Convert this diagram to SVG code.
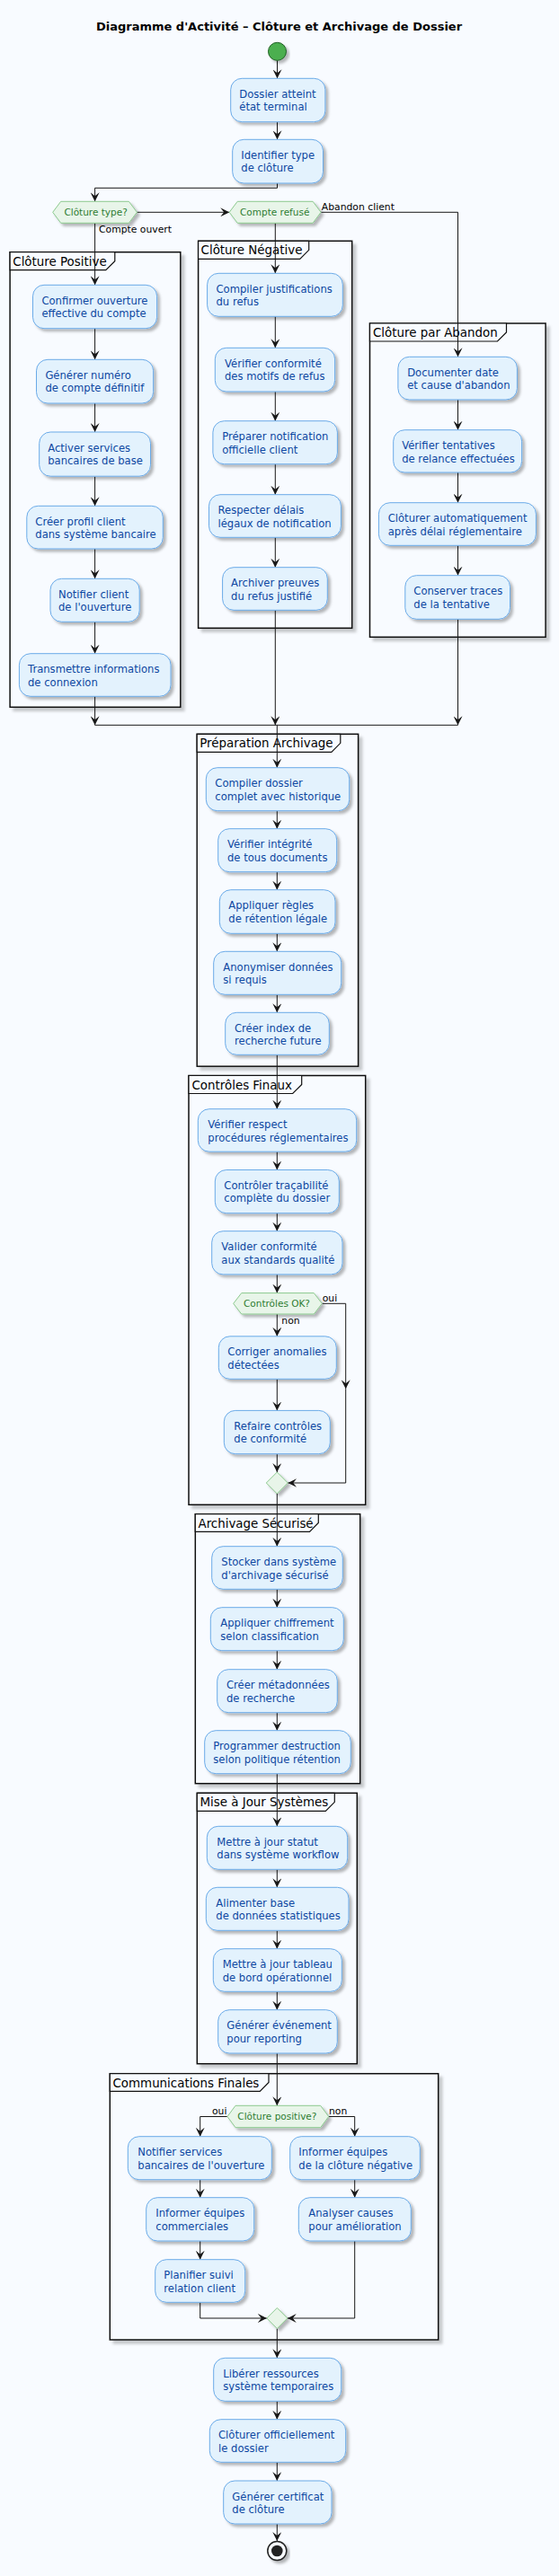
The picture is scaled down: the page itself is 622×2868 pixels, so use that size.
<svg xmlns="http://www.w3.org/2000/svg" width="622" height="2868" viewBox="0 0 622 2868">
<defs>
<filter id="sh" x="-10%" y="-10%" width="130%" height="140%"><feDropShadow dx="3" dy="3" stdDeviation="1.8" flood-color="#000" flood-opacity="0.28"/></filter>
<filter id="shf" x="-5%" y="-5%" width="115%" height="115%"><feDropShadow dx="4" dy="4" stdDeviation="1.5" flood-color="#000" flood-opacity="0.2"/></filter>
<marker id="ah" viewBox="0 0 10 10" refX="10" refY="5" markerWidth="10" markerHeight="10" markerUnits="userSpaceOnUse" orient="auto"><path d="M0,0 L10,5 L0,10 L4,5 Z" fill="#181818"/></marker>
<style>
.bg{fill:#F8FBFF}
.box{fill:#E3F2FD;stroke:#6AAAE8;stroke-width:1;filter:url(#sh)}
.bt{font-family:"DejaVu Sans","Liberation Sans",sans-serif;font-size:11.6px;fill:#0D47A1}
.hex{fill:#E8F5E9;stroke:#8BC98E;stroke-width:1;filter:url(#sh)}
.ht{font-family:"DejaVu Sans","Liberation Sans",sans-serif;font-size:10.5px;fill:#2E7D32}
.fr{fill:#F8FBFF;stroke:#111;stroke-width:1.5;filter:url(#shf)}
.tab{fill:#F8FBFF;stroke:#111;stroke-width:1.2}
.ft{font-family:"DejaVu Sans","Liberation Sans",sans-serif;font-size:13.4px;fill:#000}
.lb{font-family:"DejaVu Sans","Liberation Sans",sans-serif;font-size:10.8px;fill:#000}
.title{font-family:"DejaVu Sans","Liberation Sans",sans-serif;font-size:13px;font-weight:bold;fill:#000}
.c path{fill:none;stroke:#181818;stroke-width:1;marker-end:url(#ah)}
.c path.n{marker-end:none}
</style>
</defs>
<rect class="bg" x="0" y="0" width="622" height="2868"/>
<text class="title" x="310.5" y="34" text-anchor="middle">Diagramme d'Activité – Clôture et Archivage de Dossier</text>

<g id="frames">
<g id="p-positive"><rect class="fr" x="11.1" y="280.7" width="189.7" height="506.6"/><path class="tab" d="M11.1,280.7 H127.8 V290.7 L117.8,300.7 H11.1 Z"/><text class="ft" x="14.3" y="295.7">Clôture Positive</text></g>
<g id="p-negative"><rect class="fr" x="220.6" y="268.3" width="171.1" height="431"/><path class="tab" d="M220.6,268.3 H343.7 V278.3 L333.7,288.3 H220.6 Z"/><text class="ft" x="223.6" y="283.3">Clôture Négative</text></g>
<g id="p-abandon"><rect class="fr" x="411.5" y="360" width="195.6" height="349.3"/><path class="tab" d="M411.5,360 H563.5 V370 L553.5,380 H411.5 Z"/><text class="ft" x="415" y="375">Clôture par Abandon</text></g>
<g id="p-preparation"><rect class="fr" x="219.2" y="817.3" width="179.4" height="369.9"/><path class="tab" d="M219.2,817.3 H378.8 V827.3 L368.8,837.3 H219.2 Z"/><text class="ft" x="222.2" y="832.3">Préparation Archivage</text></g>
<g id="p-controles"><rect class="fr" x="210" y="1197.5" width="196.7" height="477.8"/><path class="tab" d="M210,1197.5 H335.7 V1207.5 L325.7,1217.5 H210 Z"/><text class="ft" x="213.5" y="1212.5">Contrôles Finaux</text></g>
<g id="p-archivage"><rect class="fr" x="217.3" y="1685.7" width="183.4" height="300"/><path class="tab" d="M217.3,1685.7 H354.3 V1695.5 L344.5,1705.3 H217.3 Z"/><text class="ft" x="220.5" y="1700.5">Archivage Sécurisé</text></g>
<g id="p-maj"><rect class="fr" x="219.3" y="1996.3" width="178" height="301.4"/><path class="tab" d="M219.3,1996.3 H372.3 V2006.3 L362.3,2016.3 H219.3 Z"/><text class="ft" x="222.5" y="2011.3">Mise à Jour Systèmes</text></g>
<g id="p-comm"><rect class="fr" x="122.3" y="2308.7" width="365.4" height="296.3"/><path class="tab" d="M122.3,2308.7 H299 V2318.5 L289.2,2328.3 H122.3 Z"/><text class="ft" x="125.5" y="2323.7">Communications Finales</text></g>
</g>

<g id="connectors" class="c">
<path d="M308.5,67.3 V87.3"/>
<path d="M308.5,135.7 V155.3"/>
<path d="M308.5,204 V209.3 H105.6 V224.3"/>
<path d="M152.4,236.3 H255.2"/>
<path d="M357.1,236.3 H509.5 V397.3"/>
<path d="M105.6,248.3 V317.3"/>
<path d="M306.3,248.3 V304.3"/>
<path d="M105.6,365.7 V400.3"/>
<path d="M105.6,449 V481"/>
<path d="M105.6,530.7 V563.3"/>
<path d="M105.6,611 V644.3"/>
<path d="M105.6,692.3 V727.7"/>
<path d="M105.6,775.3 V807.3"/>
<path d="M306.3,352.3 V387.3"/>
<path d="M306.3,436 V468.7"/>
<path d="M306.3,516.7 V550.7"/>
<path d="M306.3,598.3 V631.7"/>
<path d="M306.3,679.3 V807.3"/>
<path d="M509.5,445 V478.7"/>
<path d="M509.5,526 V559.7"/>
<path d="M509.5,607.3 V640.7"/>
<path d="M509.5,689.3 V807.3"/>
<path class="n" d="M105.6,807.3 H509.5"/>
<path d="M308.3,807.3 V854.7"/>
<path d="M308.3,902.7 V922.7"/>
<path d="M308.3,970.7 V990.7"/>
<path d="M308.3,1039.3 V1059.3"/>
<path d="M308.3,1107.3 V1127.3"/>
<path d="M308.3,1174.3 V1234.7"/>
<path d="M308.3,1282.2 V1302.5"/>
<path d="M308.3,1350.7 V1370.7"/>
<path d="M308.3,1418.9 V1439.6"/>
<path d="M308.3,1463 V1487.8"/>
<path d="M308.3,1535.3 V1570.4"/>
<path d="M308.3,1618.7 V1639"/>
<path d="M358.3,1451.3 H384.7 V1546.3"/>
<path d="M384.7,1546.3 V1651 H320.3"/>
<path d="M308.3,1663 V1721.7"/>
<path d="M308.3,1769.3 V1789.7"/>
<path d="M308.3,1837.7 V1858.7"/>
<path d="M308.3,1906.7 V1926.7"/>
<path d="M308.3,1974.7 V2033.3"/>
<path d="M308.3,2081.3 V2101.3"/>
<path d="M308.3,2149.3 V2169.7"/>
<path d="M308.3,2217.3 V2237.7"/>
<path d="M308.3,2286 V2344.3"/>
<path d="M253,2356.5 H222.7 V2378.7"/>
<path d="M365.7,2356.5 H394.7 V2378.7"/>
<path d="M222.7,2426.7 V2446.7"/>
<path d="M222.7,2495 V2515.7"/>
<path d="M222.7,2563.3 V2581 H296.8"/>
<path d="M394.7,2426.7 V2446.7"/>
<path d="M394.7,2495 V2581 H319.8"/>
<path d="M308.3,2592.5 V2625.3"/>
<path d="M308.3,2673.3 V2693.7"/>
<path d="M308.3,2741.3 V2762"/>
<path d="M308.3,2810 V2829"/>
</g>

<g id="labels">
<text class="lb" x="110" y="259">Compte ouvert</text>
<text class="lb" x="357.8" y="233.5">Abandon client</text>
<text class="lb" x="358.7" y="1448.5">oui</text>
<text class="lb" x="313.3" y="1474">non</text>
<text class="lb" x="236" y="2354">oui</text>
<text class="lb" x="366" y="2354">non</text>
</g>

<g id="start"><circle cx="308.5" cy="57.3" r="10" fill="#4CAF50" stroke="#1B5E20" stroke-width="1" filter="url(#sh)"/></g>

<g id="n-dossier"><rect class="box" x="256.7" y="87.3" width="105.2" height="48.4" rx="12.5"/><text class="bt" x="266.3" y="108.9">Dossier atteint</text><text class="bt" x="266.3" y="123.2">état terminal</text></g>
<g id="n-identifier"><rect class="box" x="258.7" y="155.3" width="100.8" height="48.7" rx="12.5"/><text class="bt" x="268.3" y="176.9">Identifier type</text><text class="bt" x="268.3" y="191.2">de clôture</text></g>

<g id="d-type"><polygon class="hex" points="58.7,236.3 67.7,224.3 143.4,224.3 152.4,236.3 143.4,248.3 67.7,248.3"/><text class="ht" x="71.4" y="240">Clôture type?</text></g>
<g id="d-refuse"><polygon class="hex" points="255.2,236.3 264.2,224.3 348.1,224.3 357.1,236.3 348.1,248.3 264.2,248.3"/><text class="ht" x="267" y="240">Compte refusé</text></g>

<g id="n-p1"><rect class="box" x="36.5" y="317.3" width="138.1" height="48.4" rx="12.5"/><text class="bt" x="46.4" y="338.9">Confirmer ouverture</text><text class="bt" x="46.4" y="353.2">effective du compte</text></g>
<g id="n-p2"><rect class="box" x="40.5" y="400.3" width="130.1" height="48.7" rx="12.5"/><text class="bt" x="50.4" y="421.9">Générer numéro</text><text class="bt" x="50.4" y="436.2">de compte définitif</text></g>
<g id="n-p3"><rect class="box" x="43.7" y="481" width="123.8" height="49.2" rx="12.5"/><text class="bt" x="53.2" y="502.6">Activer services</text><text class="bt" x="53.2" y="516.9">bancaires de base</text></g>
<g id="n-p4"><rect class="box" x="29.8" y="563.3" width="151.5" height="47.7" rx="12.5"/><text class="bt" x="39.3" y="584.9">Créer profil client</text><text class="bt" x="39.3" y="599.2">dans système bancaire</text></g>
<g id="n-p5"><rect class="box" x="56" y="644.3" width="99.2" height="48" rx="12.5"/><text class="bt" x="65" y="665.9">Notifier client</text><text class="bt" x="65" y="680.2">de l'ouverture</text></g>
<g id="n-p6"><rect class="box" x="21.4" y="727.7" width="168.6" height="47.6" rx="12.5"/><text class="bt" x="31" y="749.3">Transmettre informations</text><text class="bt" x="31" y="763.6">de connexion</text></g>

<g id="n-n1"><rect class="box" x="230.6" y="304.3" width="150.7" height="48" rx="12.5"/><text class="bt" x="240.5" y="325.9">Compiler justifications</text><text class="bt" x="240.5" y="340.2">du refus</text></g>
<g id="n-n2"><rect class="box" x="239.3" y="387.3" width="133.3" height="48.7" rx="12.5"/><text class="bt" x="250" y="408.9">Vérifier conformité</text><text class="bt" x="250" y="423.2">des motifs de refus</text></g>
<g id="n-n3"><rect class="box" x="236.9" y="468.7" width="138.5" height="48" rx="12.5"/><text class="bt" x="247.2" y="490.3">Préparer notification</text><text class="bt" x="247.2" y="504.6">officielle client</text></g>
<g id="n-n4"><rect class="box" x="232.5" y="550.7" width="146.9" height="47.6" rx="12.5"/><text class="bt" x="242.5" y="572.3">Respecter délais</text><text class="bt" x="242.5" y="586.6">légaux de notification</text></g>
<g id="n-n5"><rect class="box" x="247.6" y="631.7" width="116.7" height="47.6" rx="12.5"/><text class="bt" x="257.1" y="653.3">Archiver preuves</text><text class="bt" x="257.1" y="667.6">du refus justifié</text></g>

<g id="n-a1"><rect class="box" x="442.9" y="397.3" width="132.5" height="47.7" rx="12.5"/><text class="bt" x="453.2" y="418.9">Documenter date</text><text class="bt" x="453.2" y="433.2">et cause d'abandon</text></g>
<g id="n-a2"><rect class="box" x="437.7" y="478.7" width="142.9" height="47.3" rx="12.5"/><text class="bt" x="447.2" y="500.3">Vérifier tentatives</text><text class="bt" x="447.2" y="514.6">de relance effectuées</text></g>
<g id="n-a3"><rect class="box" x="421.4" y="559.7" width="175" height="47.6" rx="12.5"/><text class="bt" x="431.7" y="581.3">Clôturer automatiquement</text><text class="bt" x="431.7" y="595.6">après délai réglementaire</text></g>
<g id="n-a4"><rect class="box" x="450.8" y="640.7" width="116.7" height="48.6" rx="12.5"/><text class="bt" x="460.3" y="662.3">Conserver traces</text><text class="bt" x="460.3" y="676.6">de la tentative</text></g>

<g id="n-r1"><rect class="box" x="229.3" y="854.7" width="159.4" height="48" rx="12.5"/><text class="bt" x="239.3" y="876.3">Compiler dossier</text><text class="bt" x="239.3" y="890.6">complet avec historique</text></g>
<g id="n-r2"><rect class="box" x="242.7" y="922.7" width="132" height="48" rx="12.5"/><text class="bt" x="253" y="944.3">Vérifier intégrité</text><text class="bt" x="253" y="958.6">de tous documents</text></g>
<g id="n-r3"><rect class="box" x="244.3" y="990.7" width="128.7" height="48.6" rx="12.5"/><text class="bt" x="254.3" y="1012.3">Appliquer règles</text><text class="bt" x="254.3" y="1026.6">de rétention légale</text></g>
<g id="n-r4"><rect class="box" x="237.7" y="1059.3" width="142" height="48" rx="12.5"/><text class="bt" x="248.3" y="1080.9">Anonymiser données</text><text class="bt" x="248.3" y="1095.2">si requis</text></g>
<g id="n-r5"><rect class="box" x="250.7" y="1127.3" width="115.6" height="47" rx="12.5"/><text class="bt" x="261" y="1148.9">Créer index de</text><text class="bt" x="261" y="1163.2">recherche future</text></g>

<g id="n-c1"><rect class="box" x="220.3" y="1234.7" width="176.4" height="47.5" rx="12.5"/><text class="bt" x="231.3" y="1256.3">Vérifier respect</text><text class="bt" x="231.3" y="1270.6">procédures réglementaires</text></g>
<g id="n-c2"><rect class="box" x="239.3" y="1302.5" width="138" height="48.2" rx="12.5"/><text class="bt" x="249.3" y="1324.1">Contrôler traçabilité</text><text class="bt" x="249.3" y="1338.4">complète du dossier</text></g>
<g id="n-c3"><rect class="box" x="235.7" y="1370.7" width="145.3" height="48.2" rx="12.5"/><text class="bt" x="246.3" y="1392.3">Valider conformité</text><text class="bt" x="246.3" y="1406.6">aux standards qualité</text></g>
<g id="d-ok"><polygon class="hex" points="259.7,1451.3 268.7,1439.6 349.3,1439.6 358.3,1451.3 349.3,1463 268.7,1463"/><text class="ht" x="271" y="1455">Contrôles OK?</text></g>
<g id="n-c4"><rect class="box" x="243.3" y="1487.8" width="131" height="47.5" rx="12.5"/><text class="bt" x="253.3" y="1509.4">Corriger anomalies</text><text class="bt" x="253.3" y="1523.7">détectées</text></g>
<g id="n-c5"><rect class="box" x="249.3" y="1570.4" width="118" height="48.3" rx="12.5"/><text class="bt" x="260.3" y="1592">Refaire contrôles</text><text class="bt" x="260.3" y="1606.3">de conformité</text></g>
<g id="m-ok"><polygon class="hex" points="308.3,1639 320.3,1651 308.3,1663 296.3,1651"/></g>

<g id="n-s1"><rect class="box" x="235.7" y="1721.7" width="145.6" height="47.6" rx="12.5"/><text class="bt" x="246.3" y="1743.3">Stocker dans système</text><text class="bt" x="246.3" y="1757.6">d'archivage sécurisé</text></g>
<g id="n-s2"><rect class="box" x="234.3" y="1789.7" width="148" height="48" rx="12.5"/><text class="bt" x="245.3" y="1811.3">Appliquer chiffrement</text><text class="bt" x="245.3" y="1825.6">selon classification</text></g>
<g id="n-s3"><rect class="box" x="241.7" y="1858.7" width="133.6" height="48" rx="12.5"/><text class="bt" x="252" y="1880.3">Créer métadonnées</text><text class="bt" x="252" y="1894.6">de recherche</text></g>
<g id="n-s4"><rect class="box" x="227.7" y="1926.7" width="162.6" height="48" rx="12.5"/><text class="bt" x="237.3" y="1948.3">Programmer destruction</text><text class="bt" x="237.3" y="1962.6">selon politique rétention</text></g>

<g id="n-m1"><rect class="box" x="230.3" y="2033.3" width="156.4" height="48" rx="12.5"/><text class="bt" x="241.3" y="2054.9">Mettre à jour statut</text><text class="bt" x="241.3" y="2069.2">dans système workflow</text></g>
<g id="n-m2"><rect class="box" x="229.3" y="2101.3" width="158.7" height="48" rx="12.5"/><text class="bt" x="240.3" y="2122.9">Alimenter base</text><text class="bt" x="240.3" y="2137.2">de données statistiques</text></g>
<g id="n-m3"><rect class="box" x="237.3" y="2169.7" width="143" height="47.6" rx="12.5"/><text class="bt" x="247.7" y="2191.3">Mettre à jour tableau</text><text class="bt" x="247.7" y="2205.6">de bord opérationnel</text></g>
<g id="n-m4"><rect class="box" x="242.7" y="2237.7" width="132.6" height="48.3" rx="12.5"/><text class="bt" x="252.3" y="2259.3">Générer événement</text><text class="bt" x="252.3" y="2273.6">pour reporting</text></g>

<g id="d-positive"><polygon class="hex" points="253,2356.5 262,2344.3 356.7,2344.3 365.7,2356.5 356.7,2368.7 262,2368.7"/><text class="ht" x="264.3" y="2360.2">Clôture positive?</text></g>
<g id="n-f1"><rect class="box" x="142.3" y="2378.7" width="160" height="48" rx="12.5"/><text class="bt" x="153.3" y="2400.3">Notifier services</text><text class="bt" x="153.3" y="2414.6">bancaires de l'ouverture</text></g>
<g id="n-f2"><rect class="box" x="162.7" y="2446.7" width="120" height="48.3" rx="12.5"/><text class="bt" x="173.3" y="2468.3">Informer équipes</text><text class="bt" x="173.3" y="2482.6">commerciales</text></g>
<g id="n-f3"><rect class="box" x="172.7" y="2515.7" width="100" height="47.6" rx="12.5"/><text class="bt" x="182.3" y="2537.3">Planifier suivi</text><text class="bt" x="182.3" y="2551.6">relation client</text></g>
<g id="n-f4"><rect class="box" x="322.7" y="2378.7" width="144.6" height="48" rx="12.5"/><text class="bt" x="332.3" y="2400.3">Informer équipes</text><text class="bt" x="332.3" y="2414.6">de la clôture négative</text></g>
<g id="n-f5"><rect class="box" x="332.3" y="2446.7" width="125" height="48.3" rx="12.5"/><text class="bt" x="343.3" y="2468.3">Analyser causes</text><text class="bt" x="343.3" y="2482.6">pour amélioration</text></g>
<g id="m-positive"><polygon class="hex" points="308.3,2569.5 319.8,2581 308.3,2592.5 296.8,2581"/></g>

<g id="n-e1"><rect class="box" x="237.7" y="2625.3" width="142" height="48" rx="12.5"/><text class="bt" x="248.3" y="2646.9">Libérer ressources</text><text class="bt" x="248.3" y="2661.2">système temporaires</text></g>
<g id="n-e2"><rect class="box" x="233.3" y="2693.7" width="151.4" height="47.6" rx="12.5"/><text class="bt" x="243" y="2715.3">Clôturer officiellement</text><text class="bt" x="243" y="2729.6">le dossier</text></g>
<g id="n-e3"><rect class="box" x="248.7" y="2762" width="120.3" height="48" rx="12.5"/><text class="bt" x="258.3" y="2783.6">Générer certificat</text><text class="bt" x="258.3" y="2797.9">de clôture</text></g>

<g id="end"><circle cx="308.3" cy="2840" r="10.5" fill="#F8FBFF" stroke="#222" stroke-width="1.5" filter="url(#sh)"/><circle cx="308.3" cy="2840" r="6.3" fill="#222"/></g>
</svg>
